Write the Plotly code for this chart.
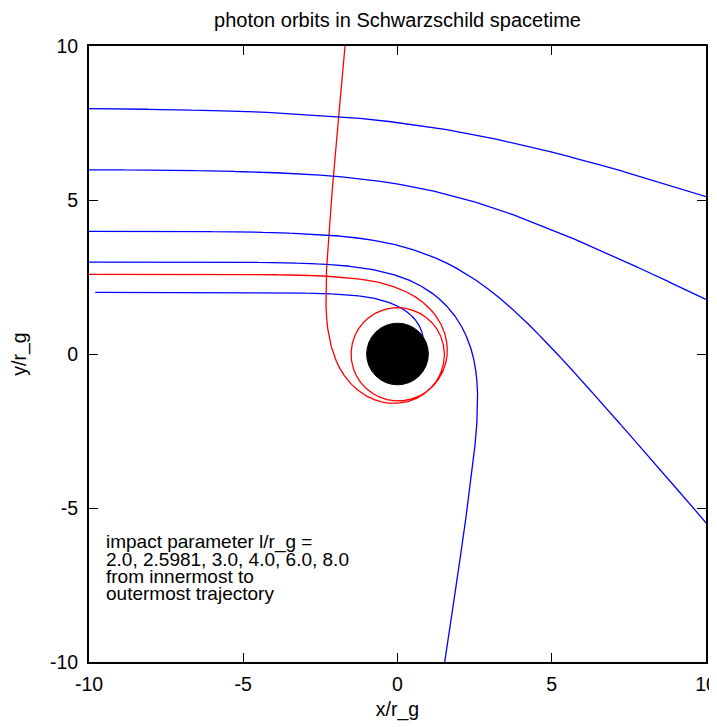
import numpy as np
import plotly.graph_objects as go

# impact parameters l/r_g (innermost to outermost)
impact_params = [2.0, 2.5981, 3.0, 4.0, 6.0, 8.0]
# tiny numerical correction so the near-critical orbit winds like the reference
impact_correction = [0.0, 2.9e-6, 0.0, 0.0, 0.0, 0.0]
orbit_colors = ["#0000ff", "#ff0000", "#0000ff", "#0000ff", "#0000ff", "#0000ff"]
start_radius = [10.0, 20.0, 20.0, 20.0, 20.0, 20.0]
tick_vals = [-10, -5, 0, 5, 10]
tick_text = ["-10", "-5", "0", "5", "10"]
horizon_radius = 1.0
note_lines = ["impact parameter l/r_g =",
              "2.0, 2.5981, 3.0, 4.0, 6.0, 8.0",
              "from innermost to",
              "outermost trajectory"]
note_y = [-6.10, -6.66, -7.21, -7.76]

FONT = "Liberation Sans, Arial, sans-serif"
FS = 19.5

# the page body has an 8 px margin; size the figure so the plot lands where the reference has it
PAGE_OFF = 8
W, H = 717 - PAGE_OFF, 727 - PAGE_OFF


def photon_orbit(b, r0, h=0.0005, r_out=30.0):
    """Integrate u'' = -u + 1.5 u^2 (units of r_g) for a photon coming from the left."""
    u = 1.0 / r0
    th = np.arcsin(min(b / r0, 1.0))
    du = np.sqrt(max(1.0 / b**2 - u**2 * (1.0 - u), 0.0))

    def f(u_, v_):
        return v_, -u_ + 1.5 * u_ * u_

    us, ths = [u], [th]
    for _ in range(200000):
        k1u, k1v = f(u, du)
        k2u, k2v = f(u + 0.5 * h * k1u, du + 0.5 * h * k1v)
        k3u, k3v = f(u + 0.5 * h * k2u, du + 0.5 * h * k2v)
        k4u, k4v = f(u + h * k3u, du + h * k3v)
        u_new = u + h / 6 * (k1u + 2 * k2u + 2 * k3u + k4u)
        du = du + h / 6 * (k1v + 2 * k2v + 2 * k3v + k4v)
        th += h
        if u_new >= 1.0 / horizon_radius:
            frac = (1.0 / horizon_radius - u) / (u_new - u)
            us.append(1.0 / horizon_radius)
            ths.append(th - h + frac * h)
            break
        u = u_new
        us.append(u)
        ths.append(th)
        if du < 0 and u < 1.0 / r_out:
            break
    us = np.array(us)
    ths = np.array(ths)
    return -np.cos(ths) / us, np.sin(ths) / us


fig = go.Figure()
for b, db, c, r0 in zip(impact_params, impact_correction, orbit_colors, start_radius):
    x, y = photon_orbit(b + db, r0)
    fig.add_trace(go.Scatter(x=x, y=y, mode="lines",
                             line=dict(color=c, width=1.3),
                             showlegend=False, hoverinfo="skip"))

fig.add_shape(type="circle", xref="x", yref="y",
              x0=-horizon_radius, y0=-horizon_radius,
              x1=horizon_radius, y1=horizon_radius,
              fillcolor="black", line=dict(color="black", width=1))

axis_common = dict(
    range=[-10, 10], tickmode="array", tickvals=tick_vals, ticktext=tick_text,
    ticks="inside", ticklen=9, tickwidth=1.2, tickcolor="black",
    showline=True, linecolor="black", linewidth=1.8, mirror="allticks",
    showgrid=False, zeroline=False, automargin=False,
    tickfont=dict(family=FONT, size=FS, color="black"),
)

fig.update_layout(
    width=W, height=H,
    margin=dict(l=89 - PAGE_OFF, r=11, t=46 - PAGE_OFF, b=65, autoexpand=False),
    paper_bgcolor="white", plot_bgcolor="white",
    title=dict(text="photon orbits in Schwarzschild spacetime",
               xref="paper", x=0.5, xanchor="center",
               yref="container", y=1 - (19.5 - PAGE_OFF) / H, yanchor="middle",
               automargin=False,
               font=dict(family=FONT, size=20, color="black")),
    xaxis=dict(axis_common, ticklabelstandoff=4,
               title=dict(text="x/r_g", standoff=8,
                          font=dict(family=FONT, size=FS, color="black"))),
    yaxis=dict(axis_common, ticklabelstandoff=5,
               title=dict(text="y/r_g", standoff=22,
                          font=dict(family=FONT, size=FS, color="black"))),
)

for txt, yy in zip(note_lines, note_y):
    fig.add_annotation(
        x=-9.5, y=yy, xref="x", yref="y", xanchor="left", yanchor="middle",
        align="left", showarrow=False, text=txt,
        font=dict(family=FONT, size=19, color="black"),
    )

fig.write_html("out.html")
